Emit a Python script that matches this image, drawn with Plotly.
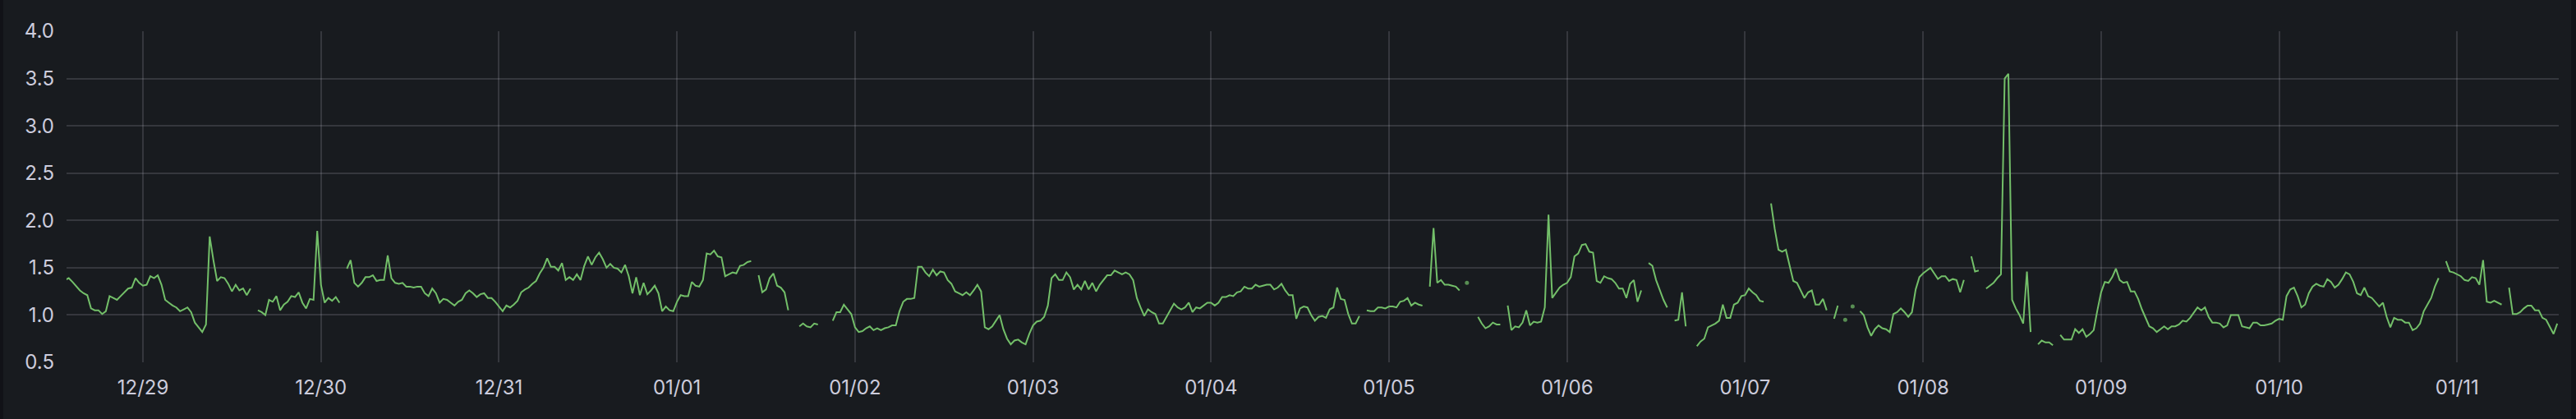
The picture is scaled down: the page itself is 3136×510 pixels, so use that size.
import pandas as pd
import plotly.graph_objects as go

N = None
# Half-hourly samples; each row = one hour (:00, :30)
d_1228 = [1.37,
          1.39, 1.35, 1.30, 1.26, 1.23, 1.21, 1.07, 1.05, 1.05, 1.01,
          1.04, 1.20, 1.18, 1.16, 1.20, 1.24, 1.28, 1.29, 1.39, 1.34]
d_1229 = [1.31, 1.32, 1.41, 1.39, 1.42, 1.32, 1.16, 1.13, 1.10, 1.08, 1.04, 1.06,
          1.08, 1.03, 0.92, 0.87, 0.82, 0.90, 1.83, 1.58, 1.36, 1.40, 1.39, 1.33,
          1.25, 1.32, 1.26, 1.28, 1.21, 1.28, N, 1.05, 1.03, 1.00, 1.16, 1.14,
          1.20, 1.05, 1.11, 1.14, 1.20, 1.19, 1.24, 1.13, 1.07, 1.17, 1.16, 1.89]
d_1230 = [1.32, 1.13, 1.18, 1.15, 1.19, 1.13, N, 1.49, 1.58, 1.34, 1.30, 1.34,
          1.40, 1.40, 1.42, 1.36, 1.37, 1.37, 1.63, 1.39, 1.34, 1.33, 1.34, 1.30,
          1.30, 1.29, 1.30, 1.30, 1.23, 1.20, 1.28, 1.23, 1.13, 1.17, 1.16, 1.13,
          1.10, 1.14, 1.16, 1.23, 1.26, 1.23, 1.19, 1.22, 1.23, 1.18, 1.18, 1.14]
d_1231 = [1.09, 1.04, 1.10, 1.08, 1.11, 1.15, 1.24, 1.27, 1.29, 1.33, 1.36, 1.44,
          1.50, 1.60, 1.51, 1.51, 1.47, 1.55, 1.37, 1.40, 1.37, 1.43, 1.37, 1.52,
          1.62, 1.53, 1.61, 1.66, 1.59, 1.50, 1.54, 1.50, 1.49, 1.45, 1.53, 1.41,
          1.23, 1.40, 1.21, 1.34, 1.22, 1.26, 1.31, 1.23, 1.04, 1.09, 1.05, 1.04]
d_0101 = [1.14, 1.21, 1.20, 1.20, 1.35, 1.31, 1.30, 1.37, 1.65, 1.64, 1.68, 1.62,
          1.61, 1.41, 1.43, 1.45, 1.44, 1.52, 1.53, 1.56, 1.57, N, 1.42, 1.24,
          1.27, 1.39, 1.44, 1.31, 1.29, 1.24, 1.05, N, N, 0.88, 0.91, 0.88,
          0.87, 0.91, 0.90, N, N, N, 0.94, 1.03, 1.03, 1.11, 1.06, 1.01]
d_0102 = [0.87, 0.82, 0.83, 0.86, 0.88, 0.84, 0.86, 0.84, 0.86, 0.87, 0.89, 0.89,
          1.04, 1.14, 1.17, 1.17, 1.18, 1.51, 1.51, 1.45, 1.41, 1.48, 1.42, 1.46,
          1.45, 1.37, 1.33, 1.25, 1.23, 1.21, 1.24, 1.21, 1.26, 1.32, 1.25, 0.87,
          0.85, 0.88, 0.94, 1.00, 0.85, 0.75, 0.69, 0.73, 0.74, 0.71, 0.69, 0.80]
d_0103 = [0.89, 0.93, 0.94, 0.98, 1.10, 1.39, 1.43, 1.37, 1.37, 1.45, 1.40, 1.27,
          1.32, 1.27, 1.36, 1.27, 1.34, 1.25, 1.32, 1.37, 1.42, 1.42, 1.47, 1.45,
          1.43, 1.45, 1.43, 1.37, 1.18, 1.08, 0.99, 1.06, 1.03, 1.01, 0.91, 0.91,
          0.98, 1.04, 1.12, 1.08, 1.06, 1.08, 1.13, 1.03, 1.08, 1.07, 1.10, 1.13]
d_0104 = [1.13, 1.10, 1.13, 1.19, 1.19, 1.21, 1.20, 1.24, 1.25, 1.30, 1.28, 1.28,
          1.32, 1.30, 1.31, 1.32, 1.32, 1.27, 1.29, 1.33, 1.26, 1.21, 1.21, 0.96,
          1.07, 1.09, 1.08, 1.00, 0.94, 0.98, 0.99, 0.97, 1.06, 1.08, 1.29, 1.17,
          1.16, 1.01, 0.91, 0.91, 0.99, N, 1.05, 1.04, 1.04, 1.08, 1.08, 1.07]
d_0105 = [1.09, 1.09, 1.08, 1.14, 1.15, 1.18, 1.10, 1.13, 1.11, 1.10, N, 1.30,
          1.92, 1.34, 1.37, 1.32, 1.32, 1.31, 1.30, 1.26, N, 1.34, N, N,
          0.98, 0.91, 0.86, 0.88, 0.92, 0.90, 0.90, N, 1.10, 0.84, 0.88, 0.87,
          0.92, 1.05, 0.89, 0.93, 0.92, 0.93, 1.08, 2.06, 1.18, 1.24, 1.29, 1.32]
d_0106 = [1.34, 1.40, 1.62, 1.65, 1.74, 1.75, 1.67, 1.66, 1.36, 1.34, 1.41, 1.39,
          1.38, 1.34, 1.28, 1.28, 1.18, 1.33, 1.37, 1.14, 1.26, N, 1.55, 1.52,
          1.37, 1.26, 1.16, 1.08, N, 0.94, 0.95, 1.24, 0.88, N, N, 0.67,
          0.72, 0.75, 0.87, 0.89, 0.91, 0.94, 1.11, 0.97, 0.97, 1.11, 1.13, 1.20]
d_0107 = [1.21, 1.28, 1.24, 1.21, 1.15, 1.14, N, 2.18, 1.91, 1.69, 1.67, 1.69,
          1.52, 1.36, 1.34, 1.26, 1.18, 1.24, 1.26, 1.11, 1.11, 1.17, 1.05, N,
          0.96, 1.10, N, 0.95, N, 1.09, N, 1.04, 1.00, 0.87, 0.78, 0.85,
          0.89, 0.86, 0.85, 0.82, 1.01, 1.03, 1.07, 1.03, 0.98, 1.03, 1.27, 1.40]
d_0108 = [1.44, 1.47, 1.50, 1.44, 1.38, 1.41, 1.41, 1.36, 1.38, 1.37, 1.24, 1.37,
          N, 1.62, 1.46, 1.47, N, 1.28, 1.31, 1.34, 1.39, 1.43, 3.50, 3.55,
          1.16, 1.07, 1.00, 0.91, 1.46, 0.82, N, 0.69, 0.73, 0.71, 0.71, 0.68,
          N, 0.79, 0.74, 0.74, 0.74, 0.85, 0.81, 0.85, 0.77, 0.80, 0.84, 1.05]
d_0109 = [1.24, 1.35, 1.34, 1.40, 1.49, 1.37, 1.34, 1.35, 1.25, 1.25, 1.17, 1.06,
          0.97, 0.88, 0.86, 0.82, 0.85, 0.88, 0.85, 0.88, 0.88, 0.90, 0.94, 0.93,
          0.97, 1.03, 1.08, 1.05, 1.08, 0.98, 0.92, 0.92, 0.91, 0.87, 0.89, 1.00,
          1.00, 1.00, 0.88, 0.87, 0.86, 0.92, 0.92, 0.89, 0.89, 0.90, 0.91, 0.94]
d_0110 = [0.96, 0.95, 1.20, 1.27, 1.29, 1.20, 1.08, 1.11, 1.23, 1.30, 1.33, 1.31,
          1.30, 1.38, 1.35, 1.29, 1.32, 1.38, 1.45, 1.43, 1.35, 1.23, 1.21, 1.29,
          1.20, 1.18, 1.13, 1.09, 1.13, 0.98, 0.87, 0.97, 0.95, 0.95, 0.92, 0.92,
          0.84, 0.86, 0.91, 1.04, 1.11, 1.18, 1.30, 1.39, N, 1.57, 1.46, 1.45]
d_0111 = [1.43, 1.41, 1.37, 1.36, 1.40, 1.39, 1.32, 1.58, 1.14, 1.13, 1.15, 1.13,
          1.11, N, 1.29, 1.01, 1.01, 1.03, 1.07, 1.10, 1.10, 1.05, 1.05, 0.97,
          0.95, 0.88, 0.80, 0.91]

series_start = "2023-12-28 13:30"
x_start, x_end = "2023-12-28 13:42", "2024-01-11 13:42"
first_tick = "2023-12-29"

values = (d_1228 + d_1229 + d_1230 + d_1231 + d_0101 + d_0102 + d_0103 + d_0104 +
          d_0105 + d_0106 + d_0107 + d_0108 + d_0109 + d_0110 + d_0111)
times = pd.date_range(series_start, periods=len(values), freq="30min")

# isolated samples are drawn as dots (like Grafana)
sizes = []
for i, v in enumerate(values):
    prev_none = i == 0 or values[i - 1] is None
    next_none = i == len(values) - 1 or values[i + 1] is None
    sizes.append(5 if (v is not None and prev_none and next_none) else 0)

GREEN = "#73bf69"
PANEL = "#181b1f"
CANVAS = "#111217"
TXT = "rgb(204,204,220)"
GRID = "rgba(204,204,220,0.16)"

fig = go.Figure()
fig.add_trace(go.Scatter(
    x=times, y=values, mode="lines+markers",
    line=dict(color=GREEN, width=2),
    marker=dict(color=GREEN, size=sizes, line=dict(width=0)),
    connectgaps=False, hoverinfo="skip", showlegend=False,
))

W, H = 3136, 510
ml, mr, mt, mb = 81, 21, 38, 69
pw = W - ml - mr
fig.update_layout(
    width=W, height=H,
    margin=dict(l=ml, r=mr, t=mt, b=mb, pad=0),
    paper_bgcolor=PANEL, plot_bgcolor=PANEL,
    font=dict(family="Inter, Roboto, sans-serif", size=24, color=TXT),
    xaxis=dict(
        type="date", range=[x_start, x_end], automargin=False,
        tick0=first_tick, dtick=86400000, tickformat="%m/%d",
        showgrid=True, gridcolor=GRID, gridwidth=2,
        zeroline=False, showline=False, ticks="",
        ticklabelstandoff=14,
    ),
    yaxis=dict(
        range=[0.5, 4.0], dtick=0.5, tick0=0.5, tickformat=".1f", automargin=False,
        showgrid=True, gridcolor=GRID, gridwidth=2,
        zeroline=False, showline=False, ticks="",
        ticklabelstandoff=14,
    ),
    shapes=[
        dict(type="rect", xref="paper", yref="paper",
             x0=-ml / pw - 0.01, x1=(4 - ml) / pw, y0=-1, y1=2,
             fillcolor=CANVAS, line=dict(width=0), layer="above"),
        dict(type="rect", xref="paper", yref="paper",
             x0=(3130 - ml) / pw, x1=1 + mr / pw + 0.01, y0=-1, y1=2,
             fillcolor=CANVAS, line=dict(width=0), layer="above"),
    ],
)

fig.write_html(
    "out.html",
    config={"displayModeBar": False},
    post_script="document.body.style.margin='0';document.body.style.overflow='hidden';",
)
